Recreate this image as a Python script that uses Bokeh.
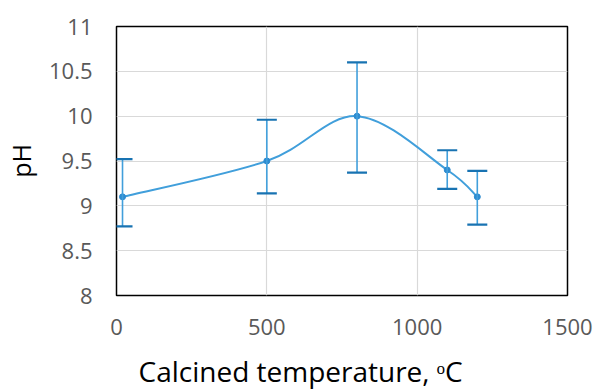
import numpy as np
from bokeh.plotting import figure
from bokeh.models import ColumnDataSource, Whisker, TeeHead, Title, Range1d
from bokeh.embed import file_html
from bokeh.resources import INLINE

# ---- data ----
temperature = [20, 500, 800, 1100, 1200]
ph = [9.1, 9.5, 10.0, 9.4, 9.1]
ph_upper = [9.52, 9.96, 10.6, 9.62, 9.39]
ph_lower = [8.77, 9.14, 9.37, 9.19, 8.79]
x_ticks = [0, 500, 1000, 1500]
x_tick_labels = ["0", "500", "1000", "1500"]
y_ticks = [8, 8.5, 9, 9.5, 10, 10.5, 11]
y_tick_labels = ["8", "8.5", "9", "9.5", "10", "10.5", "11"]
x_title = "Calcined temperature, \u1d52C"
y_title = "pH"

FONT = "Open Sans"
LINE = "#419fdb"
CAP = "#1873b2"

p = figure(width=594, height=390, output_backend="svg", toolbar_location=None,
           x_range=Range1d(0, 1500), y_range=Range1d(8, 11),
           min_border_left=114, min_border_right=27, min_border_top=26, min_border_bottom=94)
p.background_fill_color = "white"
p.border_fill_color = "white"
p.outline_line_color = "black"
p.outline_line_width = 1.5

for ax, ticks, labels in ((p.xaxis, x_ticks, x_tick_labels), (p.yaxis, y_ticks, y_tick_labels)):
    ax.ticker = ticks
    ax.major_label_overrides = dict(zip(ticks, labels))
    ax.axis_line_color = None
    ax.major_tick_line_color = None
    ax.minor_tick_line_color = None
    ax.major_tick_out = 0
    ax.major_tick_in = 0
    ax.major_label_text_font = FONT
    ax.major_label_text_font_size = "22px"
    ax.major_label_text_color = "#595959"
p.xaxis.major_label_standoff = 23
p.yaxis.major_label_standoff = 24

p.yaxis.axis_label = y_title
p.yaxis.axis_label_text_font = FONT
p.yaxis.axis_label_text_font_size = "25px"
p.yaxis.axis_label_text_font_style = "normal"
p.yaxis.axis_label_text_color = "black"
p.yaxis.axis_label_standoff = 8

p.add_layout(Title(text=x_title, align="left", offset=22, standoff=2, padding=(0, 0, 11, 0),
                   text_font=FONT, text_font_size="28px", text_font_style="normal",
                   text_color="black"), "below")

p.xgrid.grid_line_color = "#d9d9d9"
p.ygrid.grid_line_color = "#d9d9d9"
p.xgrid.grid_line_width = 1.2
p.ygrid.grid_line_width = 1.2

# smoothed line (Catmull-Rom Bezier through the data points)
xs = np.array(temperature, dtype=float)
ys = np.array(ph, dtype=float)
n = len(xs)
idx = np.arange(n - 1)
im1 = np.clip(idx - 1, 0, n - 1)
ip2 = np.clip(idx + 2, 0, n - 1)
cx0 = xs[idx] + (xs[idx + 1] - xs[im1]) / 6
cy0 = ys[idx] + (ys[idx + 1] - ys[im1]) / 6
cx1 = xs[idx + 1] - (xs[ip2] - xs[idx]) / 6
cy1 = ys[idx + 1] - (ys[ip2] - ys[idx]) / 6
p.bezier(x0=xs[idx], y0=ys[idx], x1=xs[idx + 1], y1=ys[idx + 1],
         cx0=cx0, cy0=cy0, cx1=cx1, cy1=cy1, line_color=LINE, line_width=2)

src = ColumnDataSource(dict(x=temperature, y=ph, upper=ph_upper, lower=ph_lower))
w = Whisker(base="x", upper="upper", lower="lower", source=src,
            line_color=LINE, line_width=1.6, level="glyph",
            upper_head=TeeHead(size=20, line_color=CAP, line_width=2.2),
            lower_head=TeeHead(size=20, line_color=CAP, line_width=2.2))
p.add_layout(w)
p.scatter("x", "y", source=src, size=6, color="#2d8bd0")

open("out.html", "w").write(file_html(p, INLINE))
